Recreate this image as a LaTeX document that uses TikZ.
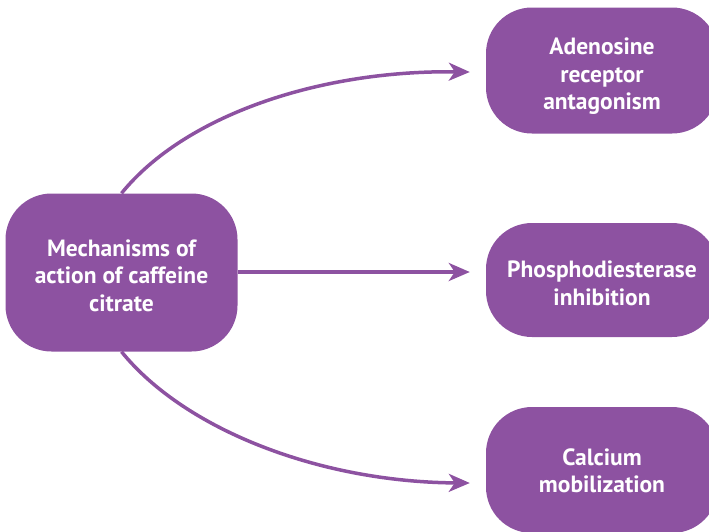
\documentclass[tikz,border=0pt]{standalone}
\usepackage{fontspec}
\setmainfont{PT Sans}
\usetikzlibrary{arrows.meta}
\definecolor{mech}{RGB}{141,82,161}
\begin{document}
\begin{tikzpicture}[x=1pt,y=-1pt,
  box/.style={fill=mech,draw=none,rounded corners=46pt,
    minimum width=232pt,inner sep=0pt},
  caption/.style={text=white,font=\fontsize{23.5}{27.5}\selectfont\bfseries,
    align=center,inner sep=0pt},
  link/.style={draw=mech,line width=3.5pt,
    -{Stealth[length=21pt,width=18pt,inset=6pt]}}]
\useasboundingbox (0,0) rectangle (709,531);
\clip (0,0) rectangle (709,531);
% central mechanism box
\node[box,minimum height=158pt] (core) at (121.5,272.5) {};
\node[caption] (coreT) at ([yshift=-3pt]core.center)
  {Mechanisms of\\action of caffeine\\citrate};
% effect boxes on the right
\node[box,minimum height=126pt] (aden) at (602,70.5) {};
\node[caption] (adenT) at ([yshift=-6pt]aden.center)
  {Adenosine\\receptor\\antagonism};
\node[box,minimum height=114pt] (pde) at (602,280) {};
\node[caption] (pdeT) at ([yshift=-3.5pt]pde.center)
  {Phosphodiesterase\\inhibition};
\node[box,minimum height=126pt] (calc) at (602,470) {};
\node[caption] (calcT) at ([yshift=-1pt]calc.center)
  {Calcium\\mobilization};
% connectors
\draw[link] (core.north) .. controls (185,115) and (320,70) .. ([xshift=-16pt,yshift=-1.5pt]aden.west);
\draw[link] (core.east |- 0,272) -- ([xshift=-16pt]pde.west |- 0,272);
\draw[link] (core.south) .. controls (185,430) and (320,482) .. ([xshift=-16pt,yshift=-13pt]calc.west);
\end{tikzpicture}
\end{document}
